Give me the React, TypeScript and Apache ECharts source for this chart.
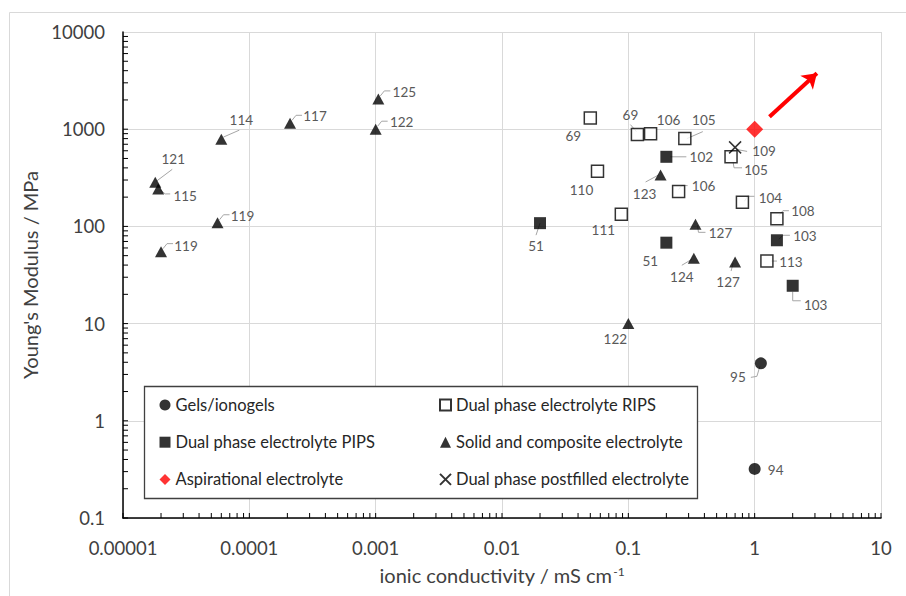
import React, { useEffect, useRef } from 'react';
import * as echarts from 'echarts';

// ---- data ----
const xTickLabels = ['0.00001', '0.0001', '0.001', '0.01', '0.1', '1', '10'];
const yTickLabels = ['0.1', '1', '10', '100', '1000', '10000'];

const gelsX = [1.12, 1.0];
const gelsY = [3.9, 0.32];
const gelsRef = ['95', '94'];

const ripsX = [0.05, 0.118, 0.15, 0.28, 0.65, 0.057, 0.25, 0.8, 1.5, 0.088, 1.25];
const ripsY = [1300, 880, 900, 800, 520, 370, 228, 177, 120, 133, 44];
const ripsRef = ['69', '69', '106', '105', '105', '110', '106', '104', '108', '111', '113'];

const pipsX = [0.2, 0.02, 1.5, 0.2, 2.0];
const pipsY = [520, 108, 72, 68, 24.5];
const pipsRef = ['102', '51', '103', '51', '103'];

const solidX = [0.00105, 0.001, 0.00021, 0.00006, 0.000018, 0.000019, 0.000056, 0.00002, 0.18, 0.34, 0.33, 0.7, 0.1];
const solidY = [2050, 1000, 1150, 790, 284, 243, 109, 55, 338, 105, 47, 43, 10];
const solidRef = ['125', '122', '117', '114', '121', '115', '119', '119', '123', '127', '124', '127', '122'];

const aspX = [1.0];
const aspY = [1000];

const postX = [0.7];
const postY = [650];
const postRef = ['109'];

const arrowFrom = [1.31, 1345];
const arrowTo = [3.11, 3760];

const decadeStarts = [0.00001, 0.0001, 0.001, 0.01, 0.1, 1, 10, 100, 1000];
const tickMultiples = [1, 2, 3, 4, 5, 6, 7, 8, 9];

// ---- label layout (pixel offsets of text centre and leader polyline, relative to the point) ----
type Lay = { t: [number, number]; l?: number[][] };
const UR: Lay = { t: [26, -7], l: [[2, -3], [6, -8], [12, -8]] };
const gelsLay: Lay[] = [
  { t: [-23, 14], l: [[-1, 3], [-4, 13], [-10, 14]] },
  { t: [21, 1] },
];
const ripsLay: Lay[] = [
  { t: [-17, 18] },
  { t: [-7, -20], l: [[-1, -3], [-7, -10]] },
  { t: [18, -14] },
  { t: [19, -19], l: [[2, 0], [18, -7]] },
  { t: [25, 13], l: [[2, 5], [3, 11], [11, 11]] },
  { t: [-16, 19] },
  { t: [25, -6], l: [[0, -2], [3, -6], [9, -6]] },
  { t: [28, -4], l: [[2, -1], [5, -6], [12, -6]] },
  { t: [26, -8], l: [[2, -3], [6, -8], [12, -8]] },
  { t: [-18, 16] },
  { t: [24, 1], l: [[4, 0], [10, 0]] },
];
const pipsLay: Lay[] = [
  { t: [35, 0], l: [[4, 0], [20, 0]] },
  { t: [-4, 23], l: [[0, 0], [-4, 12]] },
  { t: [28, -4], l: [[2, -1], [6, -5], [13, -5]] },
  { t: [-16, 18] },
  { t: [23, 19], l: [[0, 6], [0, 15], [8, 15]] },
];
const solidLay: Lay[] = [
  UR,
  UR,
  { t: [25, -7], l: UR.l },
  { t: [20, -19], l: [[2, -2], [18, -9]] },
  { t: [18, -23], l: [[1, -1], [17, -13]] },
  { t: [27, 7], l: [[2, 1], [7, 5], [12, 5]] },
  { t: [25, -7], l: UR.l },
  { t: [25, -6], l: UR.l },
  { t: [-16, 19], l: [[-2, 0], [-15, 7]] },
  { t: [25, 9], l: [[2, 1], [3, 8], [10, 8]] },
  { t: [-12, 19], l: [[-2, 1], [-12, 7]] },
  { t: [-7, 20], l: [[-2, 1], [-4, 9]] },
  { t: [-13, 15] },
];
const postLay: Lay[] = [{ t: [29, 4], l: [[1, 2], [12, 4]] }];

const FONT = 'Lato, "Noto Sans", sans-serif';

type LabelItem = { x: number; y: number; text: string; lay: Lay };
function collect(xs: number[], ys: number[], refs: string[], lays: Lay[]): LabelItem[] {
  return xs.map((x, i) => ({ x, y: ys[i], text: refs[i], lay: lays[i] }));
}
const labelItems: LabelItem[] = [
  ...collect(gelsX, gelsY, gelsRef, gelsLay),
  ...collect(ripsX, ripsY, ripsRef, ripsLay),
  ...collect(pipsX, pipsY, pipsRef, pipsLay),
  ...collect(solidX, solidY, solidRef, solidLay),
  ...collect(postX, postY, postRef, postLay),
];

const zip = (xs: number[], ys: number[]) => xs.map((x, i) => [x, ys[i]]);

const X_MIN = 0.00001, X_MAX = 10, Y_MIN = 0.1, Y_MAX = 10000;

// axis minor/major tick positions
const tickData: number[][] = [];
decadeStarts.forEach((d) => {
  tickMultiples.forEach((m) => {
    const v = +(d * m).toPrecision(6);
    if (v >= X_MIN && v <= X_MAX) tickData.push([v, Y_MIN, 0]);
    if (v >= Y_MIN && v <= Y_MAX) tickData.push([X_MIN, v, 1]);
  });
});

export default function App() {
  const ref = useRef<HTMLDivElement>(null);
  useEffect(() => {
    if (!ref.current) return;
    const chart = echarts.init(ref.current, null, { renderer: 'svg' });
    const legendText = { fontSize: 16.5, color: '#262626', fontFamily: FONT, lineHeight: 18 };
    const option: any = {
      animation: false,
      textStyle: { fontFamily: FONT },
      grid: { left: 123, right: 25, top: 32, bottom: 78 },
      xAxis: {
        type: 'log',
        logBase: 10,
        min: X_MIN,
        max: X_MAX,
        splitNumber: 6,
        name: 'ionic conductivity / mS cm{s|-1}',
        nameLocation: 'middle',
        nameGap: 47,
        nameTextStyle: {
          fontSize: 20,
          color: '#404040',
          fontFamily: FONT,
          rich: {
            s: { fontSize: 12, color: '#404040', fontFamily: FONT, verticalAlign: 'top', lineHeight: 12, padding: [0, 0, 9, 1] },
          },
        },
        axisLine: { show: true, onZero: false, lineStyle: { color: '#000', width: 1.5 } },
        axisTick: { show: false },
        axisLabel: {
          fontSize: 18.5,
          color: '#404040',
          margin: 20,
          fontFamily: FONT,
          formatter: (v: number) => xTickLabels[Math.round(Math.log10(v)) + 5] ?? '',
        },
        splitLine: { show: true, lineStyle: { color: '#d9d9d9', width: 1 } },
      },
      yAxis: {
        type: 'log',
        logBase: 10,
        min: Y_MIN,
        max: Y_MAX,
        splitNumber: 5,
        name: "Young's Modulus / MPa",
        nameLocation: 'middle',
        nameGap: 74,
        nameTextStyle: { fontSize: 20, color: '#404040', fontFamily: FONT },
        axisLine: { show: true, onZero: false, lineStyle: { color: '#000', width: 1.5 } },
        axisTick: { show: false },
        axisLabel: {
          fontSize: 18.5,
          color: '#404040',
          margin: 18,
          fontFamily: FONT,
          formatter: (v: number) => yTickLabels[Math.round(Math.log10(v)) + 1] ?? '',
        },
        splitLine: { show: true, lineStyle: { color: '#d9d9d9', width: 1 } },
      },
      legend: [
        {
          data: ['Gels/ionogels', 'Dual phase electrolyte PIPS', 'Aspirational electrolyte'],
          orient: 'vertical',
          left: 159.5,
          top: 396,
          padding: 0,
          itemWidth: 11,
          itemHeight: 11,
          itemGap: 19.2,
          selectedMode: false,
          z: 10,
          textStyle: legendText,
        },
        {
          data: ['Dual phase electrolyte RIPS', 'Solid and composite electrolyte', 'Dual phase postfilled electrolyte'],
          orient: 'vertical',
          left: 437.5,
          top: 396,
          padding: 0,
          itemWidth: 11,
          itemHeight: 11,
          itemGap: 19.2,
          selectedMode: false,
          z: 10,
          textStyle: legendText,
        },
      ],
      graphic: [
        {
          type: 'rect',
          silent: true,
          z: -10,
          shape: { x: 9.5, y: 12.5, width: 1500, height: 1500 },
          style: { fill: 'none', stroke: '#d9d9d9', lineWidth: 1 },
        },
        {
          type: 'rect',
          silent: true,
          z: 5,
          shape: { x: 144.5, y: 386.5, width: 553, height: 112 },
          style: { fill: '#fff', stroke: '#404040', lineWidth: 1.3 },
        },
      ],
      series: [
        {
          name: 'ticks',
          type: 'custom',
          silent: true,
          clip: false,
          z: 1,
          data: tickData,
          encode: { x: 0, y: 1 },
          renderItem: (params: any, api: any) => {
            const p = api.coord([api.value(0), api.value(1)]);
            const k = api.value(2);
            const shape = k === 0
              ? { x1: p[0], y1: p[1], x2: p[0], y2: p[1] - 5 }
              : { x1: p[0], y1: p[1], x2: p[0] + 5, y2: p[1] };
            return { type: 'line', shape, style: { stroke: '#000', lineWidth: 1 } };
          },
        },
        {
          name: 'labels',
          type: 'custom',
          silent: true,
          clip: false,
          z: 2,
          data: labelItems.map((it) => [it.x, it.y]),
          encode: { x: 0, y: 1 },
          renderItem: (params: any, api: any) => {
            const p = api.coord([api.value(0), api.value(1)]);
            const it = labelItems[params.dataIndex];
            const children: any[] = [];
            if (it.lay.l) {
              children.push({
                type: 'polyline',
                shape: { points: it.lay.l.map(([a, b]) => [p[0] + a, p[1] + b]) },
                style: { stroke: '#a6a6a6', lineWidth: 1, fill: 'none' },
              });
            }
            children.push({
              type: 'text',
              style: {
                text: it.text,
                x: p[0] + it.lay.t[0],
                y: p[1] + it.lay.t[1],
                align: 'center',
                verticalAlign: 'middle',
                fill: '#595959',
                fontSize: 13.5,
                fontFamily: FONT,
              },
            });
            return { type: 'group', children };
          },
        },
        {
          name: 'Gels/ionogels',
          type: 'scatter',
          z: 3,
          symbol: 'circle',
          symbolSize: 12,
          itemStyle: { color: '#000' },
          data: zip(gelsX, gelsY),
        },
        {
          name: 'Dual phase electrolyte RIPS',
          type: 'scatter',
          z: 3,
          symbol: 'rect',
          symbolSize: 12,
          itemStyle: { color: '#fff', borderColor: '#000', borderWidth: 1.5 },
          data: zip(ripsX, ripsY),
        },
        {
          name: 'Dual phase electrolyte PIPS',
          type: 'scatter',
          z: 3,
          symbol: 'rect',
          symbolSize: 12,
          itemStyle: { color: '#000' },
          data: zip(pipsX, pipsY),
        },
        {
          name: 'Solid and composite electrolyte',
          type: 'scatter',
          z: 3,
          symbol: 'triangle',
          symbolSize: [12, 11],
          itemStyle: { color: '#000' },
          data: zip(solidX, solidY),
        },
        {
          name: 'Aspirational electrolyte',
          type: 'scatter',
          z: 3,
          symbol: 'diamond',
          symbolSize: 17,
          itemStyle: { color: '#ff0000' },
          data: zip(aspX, aspY),
          markLine: {
            silent: true,
            symbol: ['none', 'arrow'],
            symbolSize: 14,
            label: { show: false },
            lineStyle: { color: '#ff0000', width: 4, type: 'solid' },
            data: [[{ coord: arrowFrom }, { coord: arrowTo }]],
          },
        },
        {
          name: 'Dual phase postfilled electrolyte',
          type: 'scatter',
          z: 3,
          symbol: 'path://M0,0L10,10M10,0L0,10',
          symbolSize: 12,
          itemStyle: { color: 'none', borderColor: '#000', borderWidth: 1.5 },
          data: zip(postX, postY),
        },
      ],
    };
    chart.setOption(option);
    return () => chart.dispose();
  }, []);
  return (
    <div
      ref={ref}
      style={{ position: 'fixed', left: 0, top: 0, width: 906, height: 596, background: '#fff' }}
    />
  );
}
